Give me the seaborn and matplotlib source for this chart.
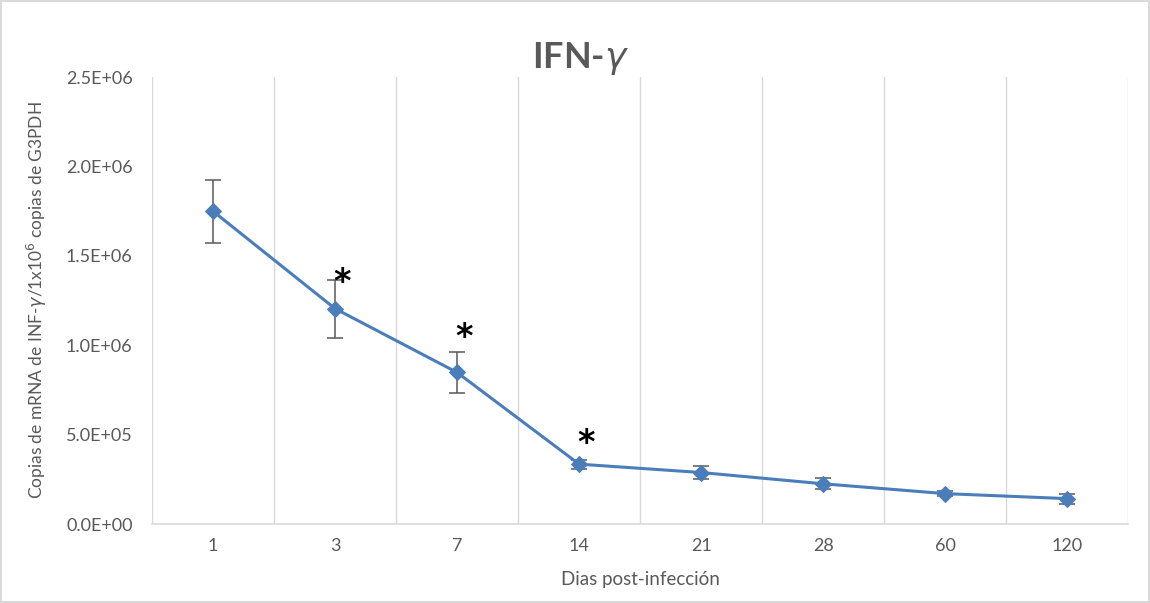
import matplotlib
matplotlib.use("Agg")
import matplotlib.pyplot as plt
import seaborn as sns
import pandas as pd
from matplotlib.ticker import FuncFormatter, MultipleLocator

days = ["1", "3", "7", "14", "21", "28", "60", "120"]
mean_copies = [1.75e6, 1.205e6, 0.848e6, 0.335e6, 0.288e6, 0.225e6, 0.170e6, 0.142e6]
err_copies = [0.176e6, 0.163e6, 0.117e6, 0.025e6, 0.034e6, 0.031e6, 0.014e6, 0.028e6]
significant = [False, True, True, True, False, False, False, False]
star_level = [None, 1.39e6, 1.08e6, 0.49e6, None, None, None, None]

sns.set_theme(style="white")
plt.rcParams["font.family"] = ["Lato", "DejaVu Sans"]

LINE = "#4a7ebb"
GRAY = "#595959"
GRID = "#d9d9d9"

df = pd.DataFrame({"day": days, "mean": mean_copies, "err": err_copies})

fig = plt.figure(figsize=(11.5, 6.03), dpi=100)
fig.patch.set_edgecolor(GRID)
fig.patch.set_linewidth(1.5)
ax = fig.add_axes([0.1322, 0.131, 0.8488, 0.741])

pos = list(range(len(days)))
ax.errorbar(pos, df["mean"], yerr=df["err"], fmt="none", ecolor=GRAY,
            elinewidth=1.1, capsize=6, capthick=1.1, zorder=2)
sns.lineplot(data=df, x="day", y="mean", sort=False, ax=ax, color=LINE,
             linewidth=2.2, marker="D", markersize=8, markeredgecolor=LINE,
             zorder=3)

for i, (s, lvl) in enumerate(zip(significant, star_level)):
    if s:
        ax.annotate("*", xy=(i, lvl), xytext=(5, -5), textcoords="offset points",
                    ha="center", va="center", fontsize=24, fontweight="bold",
                    color="black", fontfamily="DejaVu Sans")

ax.set_xlim(-0.5, len(days) - 0.5)
ax.set_ylim(0, 2.5e6)
ax.yaxis.set_major_locator(MultipleLocator(0.5e6))
ax.yaxis.set_major_formatter(FuncFormatter(lambda v, p: "%.1E" % v))

# vertical gridlines between categories
for b in [i + 0.5 for i in pos]:
    ax.axvline(b, color=GRID, linewidth=1, zorder=0)
ax.axvline(-0.5, color=GRID, linewidth=1, zorder=0)

for side in ["top", "right", "left"]:
    ax.spines[side].set_visible(False)
ax.spines["bottom"].set_color(GRID)
ax.spines["bottom"].set_linewidth(1.2)

ax.tick_params(axis="both", length=0, labelsize=13, colors=GRAY, pad=10)
ax.tick_params(axis="y", pad=14)
ax.set_xlabel("Dias post-infección", fontsize=13.5, color=GRAY, labelpad=12)
ax.set_ylabel("Copias de mRNA de INF-$\\gamma$/1x10$^{6}$ copias de G3PDH",
              fontsize=12.5, color=GRAY, labelpad=12)

fig.text(0.505, 0.903, "IFN-$\\gamma$", ha="center", va="center",
         fontsize=26, fontweight="bold", color=GRAY)

fig.savefig("out.png", dpi=100, edgecolor=fig.get_edgecolor())
